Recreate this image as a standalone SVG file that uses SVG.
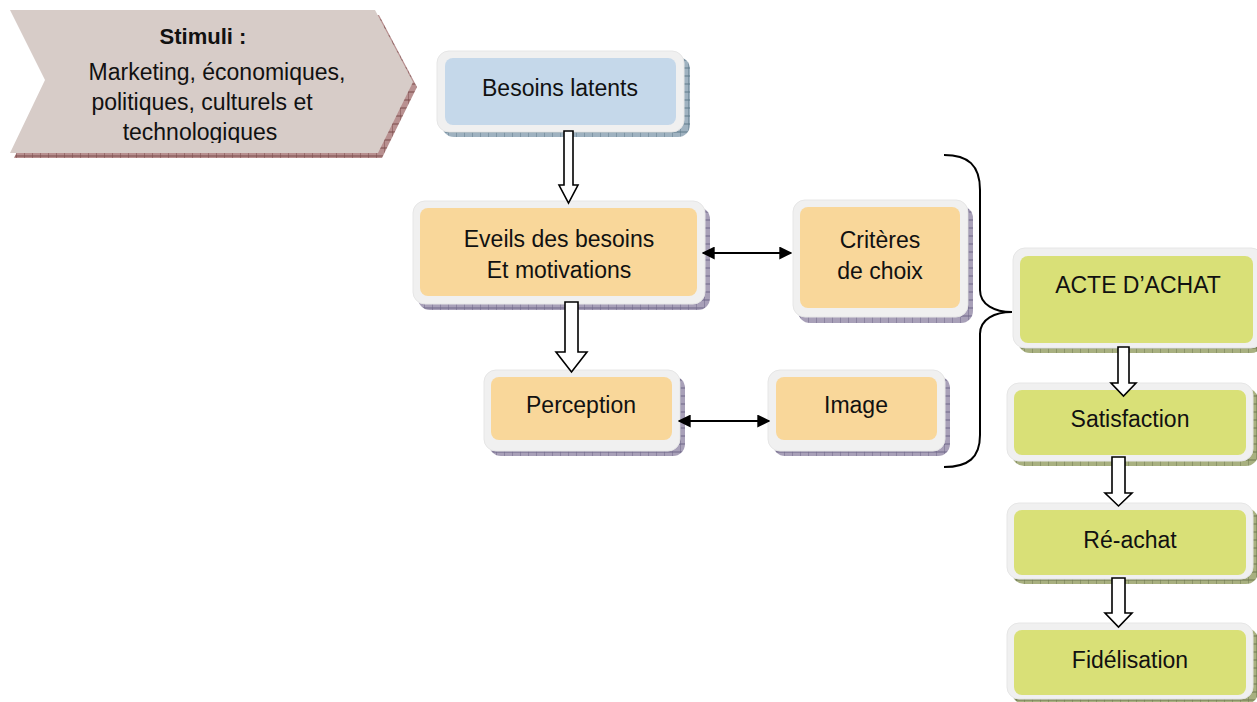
<svg xmlns="http://www.w3.org/2000/svg" width="1257" height="702" viewBox="0 0 1257 702">
<defs>
<style>
text{font-family:"Liberation Sans",Arial,sans-serif;font-size:23px;fill:#111;text-anchor:middle}
.outer{fill:#f0f0f0;stroke:#e6e6e6;stroke-width:1}
.blue{fill:#c5d8ea}
.orange{fill:#f9d79a}
.green{fill:#d9e077}
.conn{fill:none;stroke:#000;stroke-width:2}
.block{fill:#fff;stroke:#000;stroke-width:1.6}
</style>
<pattern id="hp" width="8" height="8" patternUnits="userSpaceOnUse">
<rect width="8" height="8" fill="#a8a0b8"/>
<path d="M0,0 L0,8 M0,4 L8,4" stroke="#6e6688" stroke-width="1"/>
</pattern>
<pattern id="hb" width="8" height="8" patternUnits="userSpaceOnUse">
<rect width="8" height="8" fill="#9fb2c0"/>
<path d="M0,0 L0,8 M0,4 L8,4" stroke="#5f7a8a" stroke-width="1"/>
</pattern>
<pattern id="hg" width="8" height="8" patternUnits="userSpaceOnUse">
<rect width="8" height="8" fill="#a8b080"/>
<path d="M0,0 L0,8 M0,4 L8,4" stroke="#6f7850" stroke-width="1"/>
</pattern>
<pattern id="hr" width="8" height="8" patternUnits="userSpaceOnUse">
<rect width="8" height="8" fill="#b89090"/>
<path d="M0,0 L0,8 M0,4 L8,4" stroke="#7a4a4a" stroke-width="1"/>
</pattern>
<marker id="ah" viewBox="0 0 10 10" refX="9" refY="5" markerWidth="6.5" markerHeight="6.5" orient="auto-start-reverse">
<path d="M0,0 L10,5 L0,10 Z" fill="#000"/>
</marker>
<clipPath id="chevclip"><rect x="0" y="0" width="420" height="143"/></clipPath>
</defs>

<g id="stimuli">
<path d="M14,15 L379,15 L417,87 L382,158 L14,158 L49,85 Z" fill="url(#hr)"/>
<path d="M10,10 L375,10 L413,82 L378,153 L10,153 L45,80 Z" fill="#d7ccc8"/>
<g clip-path="url(#chevclip)">
<text x="203" y="44" style="font-weight:bold;font-size:22px">Stimuli :</text>
<text x="217" y="80">Marketing, économiques,</text>
<text x="202" y="110">politiques, culturels et</text>
<text x="200" y="140">technologiques</text>
</g>
</g>

<g id="besoins-latents">
<rect x="442" y="57" width="248" height="80" rx="12" fill="url(#hb)"/>
<rect x="437" y="51" width="247" height="81" rx="12" class="outer"/>
<rect x="445" y="58" width="231" height="67" rx="8" class="blue"/>
<text x="560" y="96">Besoins latents</text>
</g>

<g id="eveils">
<rect x="418" y="207" width="292" height="103" rx="12" fill="url(#hp)"/>
<rect x="413" y="201" width="292" height="103" rx="12" class="outer"/>
<rect x="420" y="208" width="277" height="88" rx="8" class="orange"/>
<text x="559" y="247">Eveils des besoins</text>
<text x="559" y="278">Et motivations</text>
</g>

<g id="criteres">
<rect x="798" y="206" width="175" height="117" rx="12" fill="url(#hp)"/>
<rect x="793" y="200" width="175" height="117" rx="12" class="outer"/>
<rect x="800" y="207" width="160" height="101" rx="8" class="orange"/>
<text x="880" y="248">Critères</text>
<text x="880" y="279">de choix</text>
</g>

<g id="perception">
<rect x="489" y="376" width="196" height="80" rx="12" fill="url(#hp)"/>
<rect x="484" y="370" width="196" height="81" rx="12" class="outer"/>
<rect x="491" y="377" width="181" height="63" rx="8" class="orange"/>
<text x="581" y="413">Perception</text>
</g>

<g id="image">
<rect x="773" y="376" width="177" height="80" rx="12" fill="url(#hp)"/>
<rect x="768" y="370" width="177" height="81" rx="12" class="outer"/>
<rect x="776" y="377" width="161" height="63" rx="8" class="orange"/>
<text x="856" y="413">Image</text>
</g>

<g id="acte-achat">
<rect x="1018" y="253" width="245" height="100" rx="12" fill="url(#hg)"/>
<rect x="1013" y="248" width="250" height="100" rx="12" class="outer"/>
<rect x="1020" y="256" width="233" height="87" rx="8" class="green"/>
<text x="1138" y="293">ACTE D’ACHAT</text>
</g>

<g id="satisfaction">
<rect x="1012" y="388" width="246" height="78" rx="12" fill="url(#hg)"/>
<rect x="1007" y="383" width="246" height="78" rx="12" class="outer"/>
<rect x="1014" y="390" width="232" height="65" rx="8" class="green"/>
<text x="1130" y="427">Satisfaction</text>
</g>

<g id="re-achat">
<rect x="1012" y="508" width="246" height="76" rx="12" fill="url(#hg)"/>
<rect x="1007" y="503" width="246" height="76" rx="12" class="outer"/>
<rect x="1014" y="510" width="232" height="65" rx="8" class="green"/>
<text x="1130" y="548">Ré-achat</text>
</g>

<g id="fidelisation">
<rect x="1012" y="628" width="246" height="76" rx="12" fill="url(#hg)"/>
<rect x="1007" y="623" width="246" height="76" rx="12" class="outer"/>
<rect x="1014" y="630" width="232" height="65" rx="8" class="green"/>
<text x="1130" y="668">Fidélisation</text>
</g>

<g id="connectors">
<path class="block" d="M564,131 L573,131 L573,185 L578,185 L568.5,203 L559,185 L564,185 Z"/>
<path class="block" d="M565,302 L578,302 L578,352 L587,352 L571.5,372 L556,352 L565,352 Z"/>
<path class="block" d="M1118,347 L1129,347 L1129,383 L1136,383 L1123.5,396 L1111,383 L1118,383 Z"/>
<path class="block" d="M1112,457 L1125,457 L1125,493 L1132,493 L1118.5,506 L1105,493 L1112,493 Z"/>
<path class="block" d="M1112,578 L1125,578 L1125,613 L1132,613 L1118.5,627 L1105,613 L1112,613 Z"/>
<line class="conn" x1="703" y1="253" x2="791" y2="253" marker-start="url(#ah)" marker-end="url(#ah)"/>
<line class="conn" x1="679" y1="421" x2="769" y2="421" marker-start="url(#ah)" marker-end="url(#ah)"/>
<path class="conn" d="M944,155 C968,155 980,165 980,190 L980,290 C980,305 995,312 1012,312 C995,312 980,319 980,334 L980,435 C980,458 968,467 944,467"/>
</g>
</svg>
